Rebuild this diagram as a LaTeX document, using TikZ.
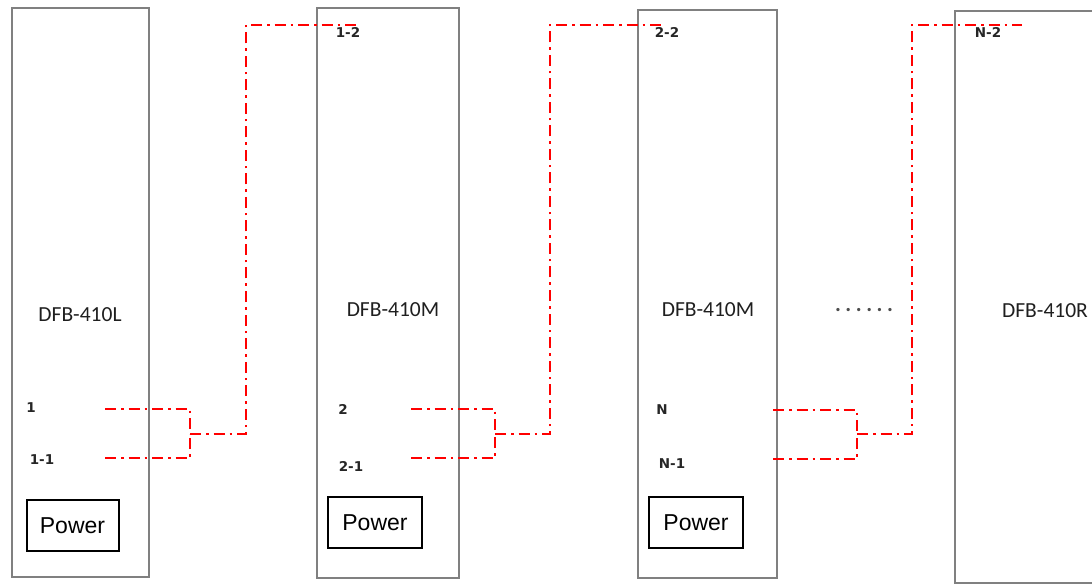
\documentclass[tikz,border=0pt]{standalone}
\usepackage{fontspec}
\setmainfont{Carlito}
\newfontfamily\arialf{Liberation Sans}
\newfontfamily\portf{DejaVu Sans}
\begin{document}
\begin{tikzpicture}[x=1pt,y=-1pt,
  unit/.style={draw=black!50,line width=2.2pt},
  pwr/.style={draw=black,line width=2pt,font=\arialf\fontsize{23}{23}\selectfont,inner sep=0pt},
  model/.style={font=\fontsize{21.5}{22}\selectfont,text=black!88},
  port/.style={font=\portf\bfseries\fontsize{13.5}{14}\selectfont,text=black!85,inner sep=0pt},
  link/.style={draw=red,line width=2.2pt,dash pattern=on 11pt off 5pt on 2.5pt off 5pt}]
\useasboundingbox (0,0) rectangle (1092,585);
\fill[white] (0,0) rectangle (1092,585);
% units
\draw[unit] (12,8) rectangle (149,577);
\draw[unit] (317,8) rectangle (459,578);
\draw[unit] (638,10) rectangle (777,578);
\draw[unit] (1100,11) -- (955,11) -- (955,583) -- (1100,583);
% model names
\node[model] (m1) at (80,315) {DFB-410L};
\node[model] (m2) at (393,310) {DFB-410M};
\node[model] (m3) at (708,310) {DFB-410M};
\node[model] (m4) at (1045,311) {DFB-410R};
\node[text=black!70,font=\bfseries\fontsize{22}{22}\selectfont] (dots) at (864,310) {\makebox[58pt]{.\hfill.\hfill.\hfill.\hfill.\hfill.}};
% power boxes
\node[pwr,minimum width=92pt,minimum height=51pt] (pw1) at (72.5,525.5) {Power};
\node[pwr,minimum width=94pt,minimum height=51pt] (pw2) at (375,522.5) {Power};
\node[pwr,minimum width=94pt,minimum height=51pt] (pw3) at (696,522.5) {Power};
% port labels
\node[port] (p1) at (31,408) {1};
\node[port] (p11) at (42,460) {1-1};
\node[port] (p12) at (348,32) {1-2};
\node[port] (p2) at (343,409) {2};
\node[port] (p21) at (351,466) {2-1};
\node[port] (p22) at (667,32) {2-2};
\node[port] (pN) at (662,410) {N};
\node[port] (pN1) at (672,464) {N-1};
\node[port] (pN2) at (988,32) {N-2};
% link 1
\coordinate (a1) at (105,409);
\coordinate (a11) at (105,458);
\coordinate (j1) at (190,434);
\coordinate (k1) at (246,434);
\coordinate (e1) at (357,25);
\draw[link] (a1) -| (j1);
\draw[link] (a11) -| (j1);
\draw[link] (j1) -- (k1) |- (e1);
% link 2
\coordinate (a2) at (411,409);
\coordinate (a21) at (411,458);
\coordinate (j2) at (495,434);
\coordinate (k2) at (550,434);
\coordinate (e2) at (663,25);
\draw[link] (a2) -| (j2);
\draw[link] (a21) -| (j2);
\draw[link] (j2) -- (k2) |- (e2);
% link 3
\coordinate (a3) at (773,410);
\coordinate (a31) at (773,459);
\coordinate (j3) at (857,434);
\coordinate (k3) at (912,434);
\coordinate (e3) at (1022,25);
\draw[link] (a3) -| (j3);
\draw[link] (a31) -| (j3);
\draw[link] (j3) -- (k3) |- (e3);
\end{tikzpicture}
\end{document}
